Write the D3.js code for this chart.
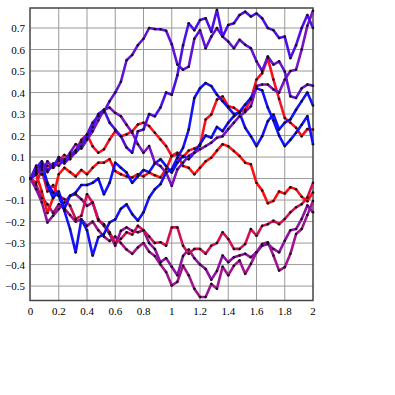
<!DOCTYPE html>
<html>
<head>
<meta charset="utf-8">
<script src="https://cdn.jsdelivr.net/npm/d3@7"></script>
<style>
  html, body { margin: 0; padding: 0; background: #fff; }
</style>
</head>
<body>
<svg id="chart" width="395" height="395"></svg>
<script>
// time steps 0..2 by 0.04 (51 points per walk)
const times = d3.range(51).map(i => +(i * 0.04).toFixed(2));
const xTicks = [0, 0.2, 0.4, 0.6, 0.8, 1, 1.2, 1.4, 1.6, 1.8, 2];
const yTicks = [-0.5, -0.4, -0.3, -0.2, -0.1, 0, 0.1, 0.2, 0.3, 0.4, 0.5, 0.6, 0.7];

const walkA = [0, 0.03, 0.05, 0.03, 0.07, 0.06, 0.09, 0.11, 0.13, 0.17, 0.205, 0.26, 0.29, 0.31, 0.36, 0.40, 0.45, 0.55, 0.575, 0.62, 0.65, 0.70, 0.695, 0.694, 0.687, 0.625, 0.53, 0.506, 0.52, 0.65, 0.69, 0.606, 0.66, 0.70, 0.66, 0.637, 0.606, 0.645, 0.622, 0.606, 0.545, 0.50, 0.568, 0.53, 0.545, 0.498, 0.383, 0.375, 0.42, 0.437, 0.432];
const walkB = [0, 0.05, 0.08, 0.04, 0.06, 0.09, 0.07, 0.10, 0.12, 0.15, 0.19, 0.24, 0.30, 0.32, 0.26, 0.228, 0.197, 0.144, 0.12, 0.22, 0.228, 0.30, 0.29, 0.33, 0.40, 0.39, 0.48, 0.62, 0.722, 0.69, 0.737, 0.745, 0.683, 0.784, 0.66, 0.714, 0.722, 0.76, 0.776, 0.753, 0.768, 0.745, 0.70, 0.69, 0.653, 0.66, 0.56, 0.62, 0.70, 0.76, 0.70];
const walkC = [0, 0.06, 0.02, 0.08, 0.05, 0.10, 0.08, 0.12, 0.16, 0.14, 0.18, 0.22, 0.27, 0.32, 0.33, 0.305, 0.29, 0.25, 0.213, 0.16, 0.12, 0.151, 0.074, 0.058, 0.028, -0.034, 0.043, 0.074, 0.105, 0.12, 0.136, 0.151, 0.167, 0.19, 0.197, 0.23, 0.26, 0.29, 0.31, 0.336, 0.43, 0.437, 0.437, 0.414, 0.40, 0.46, 0.50, 0.506, 0.60, 0.71, 0.78];
const walkR1 = [0, 0.03, 0.02, 0.06, 0.05, 0.08, 0.11, 0.09, 0.13, 0.18, 0.205, 0.15, 0.12, 0.136, 0.182, 0.22, 0.197, 0.205, 0.22, 0.251, 0.26, 0.244, 0.213, 0.182, 0.151, 0.105, 0.12, 0.10, 0.13, 0.14, 0.151, 0.275, 0.298, 0.367, 0.382, 0.336, 0.329, 0.31, 0.32, 0.367, 0.46, 0.49, 0.56, 0.46, 0.37, 0.282, 0.26, 0.236, 0.197, 0.23, 0.228];
const walkR2 = [0, 0.02, -0.06, -0.16, -0.09, 0.02, 0.05, 0.03, 0.01, 0.04, 0.02, 0.05, 0.074, 0.074, 0.09, 0.035, 0.02, 0.01, 0.005, 0.02, 0.01, 0.028, 0.015, 0.005, 0.043, 0.105, 0.112, 0.058, 0.05, 0.02, 0.05, 0.08, 0.097, 0.13, 0.16, 0.15, 0.128, 0.105, 0.074, 0.066, -0.02, -0.055, -0.115, -0.104, -0.06, -0.07, -0.04, -0.05, -0.085, -0.105, -0.065];
const walkB2 = [0, 0.04, 0.06, -0.03, -0.09, -0.06, -0.14, -0.08, -0.065, -0.03, -0.03, -0.02, 0.0, -0.073, -0.02, 0.074, 0.05, 0.028, -0.02, 0.01, 0.04, 0.03, 0.07, 0.09, 0.058, 0.028, 0.074, 0.105, 0.09, 0.12, 0.16, 0.20, 0.19, 0.24, 0.22, 0.26, 0.29, 0.31, 0.344, 0.375, 0.42, 0.41, 0.33, 0.27, 0.20, 0.151, 0.18, 0.213, 0.25, 0.29, 0.159];
const walkB3 = [0, 0.02, 0.07, -0.02, -0.065, -0.08, -0.15, -0.235, -0.343, -0.19, -0.24, -0.358, -0.273, -0.258, -0.204, -0.19, -0.14, -0.12, -0.165, -0.196, -0.157, -0.088, -0.05, -0.026, 0.028, 0.043, 0.097, 0.143, 0.228, 0.375, 0.42, 0.444, 0.43, 0.39, 0.36, 0.33, 0.30, 0.306, 0.236, 0.197, 0.151, 0.197, 0.267, 0.298, 0.228, 0.26, 0.275, 0.32, 0.36, 0.40, 0.34];
const walkC1 = [0, -0.02, 0.04, -0.06, -0.03, -0.08, -0.096, -0.127, -0.188, -0.173, -0.073, -0.111, -0.196, -0.212, -0.25, -0.30, -0.28, -0.25, -0.26, -0.22, -0.24, -0.27, -0.30, -0.296, -0.312, -0.227, -0.227, -0.312, -0.35, -0.327, -0.327, -0.35, -0.312, -0.30, -0.25, -0.281, -0.327, -0.327, -0.304, -0.235, -0.266, -0.22, -0.212, -0.196, -0.212, -0.188, -0.157, -0.134, -0.119, -0.088, -0.02];
const walkM1 = [0, -0.05, -0.11, -0.204, -0.173, -0.142, -0.111, -0.08, -0.073, -0.096, -0.127, -0.111, -0.188, -0.22, -0.258, -0.312, -0.243, -0.227, -0.243, -0.25, -0.24, -0.30, -0.327, -0.389, -0.37, -0.41, -0.45, -0.36, -0.33, -0.37, -0.40, -0.42, -0.47, -0.43, -0.358, -0.389, -0.366, -0.358, -0.35, -0.366, -0.343, -0.312, -0.304, -0.327, -0.343, -0.289, -0.24, -0.235, -0.188, -0.125, -0.157];
const walkM2 = [0, -0.03, -0.09, -0.12, -0.16, -0.12, -0.14, -0.17, -0.20, -0.19, -0.22, -0.20, -0.24, -0.27, -0.29, -0.27, -0.30, -0.33, -0.35, -0.32, -0.30, -0.34, -0.36, -0.40, -0.435, -0.497, -0.48, -0.405, -0.45, -0.512, -0.551, -0.551, -0.49, -0.512, -0.41, -0.45, -0.405, -0.381, -0.443, -0.397, -0.343, -0.304, -0.296, -0.358, -0.428, -0.412, -0.35, -0.258, -0.235, -0.17, -0.104];

const walks = [
  { values: walkM2, color: "#a0148a" },
  { values: walkM1, color: "#8c12a0" },
  { values: walkC1, color: "#d01050" },
  { values: walkR2, color: "#ff1010" },
  { values: walkR1, color: "#f81020" },
  { values: walkB2, color: "#1010ff" },
  { values: walkB3, color: "#1410f8" },
  { values: walkC, color: "#7a12c0" },
  { values: walkA, color: "#6012d6" },
  { values: walkB, color: "#4c10e6" }
];

const svg = d3.select("#chart");
const x = d3.scaleLinear().domain([0, 2]).range([30.5, 313]);
const y = d3.scaleLinear().domain([-0.567, 0.793]).range([300.5, 8]);

const g = svg.append("g");

// grid
g.selectAll(".gx").data(xTicks.slice(1, -1)).join("line")
  .attr("x1", d => x(d)).attr("x2", d => x(d))
  .attr("y1", y.range()[1]).attr("y2", y.range()[0])
  .attr("stroke", "#9a9a9a").attr("stroke-width", 1);
g.selectAll(".gy").data(yTicks).join("line")
  .attr("x1", x.range()[0]).attr("x2", x.range()[1])
  .attr("y1", d => y(d)).attr("y2", d => y(d))
  .attr("stroke", "#9a9a9a").attr("stroke-width", 1);

// frame
g.append("rect")
  .attr("x", 30).attr("y", 8)
  .attr("width", 283).attr("height", 292.5)
  .attr("fill", "none").attr("stroke", "#444").attr("stroke-width", 1.5);

const line = d3.line()
  .x((d, i) => x(times[i]))
  .y(d => y(d));

g.selectAll(".walk").data(walks).join("path")
  .attr("class", "walk")
  .attr("fill", "none")
  .attr("stroke", d => d.color)
  .attr("stroke-width", 2.6)
  .attr("stroke-linejoin", "round")
  .attr("d", d => line(d.values));

// point markers
walks.forEach(w => {
  g.selectAll(null).data(w.values).join("circle")
    .attr("cx", (d, i) => x(times[i]))
    .attr("cy", d => y(d))
    .attr("r", 1.25)
    .attr("fill", "#111");
});

// tick labels
const serif = "'Liberation Serif', 'Times New Roman', Times, 'DejaVu Serif', serif";
const fmt = d => (d < 0 ? "\u2212" : "") + Math.abs(d);
g.selectAll(".ylab").data(yTicks).join("text")
  .attr("x", 25).attr("y", d => y(d) + 4)
  .attr("text-anchor", "end")
  .attr("font-family", serif).attr("font-size", 11)
  .text(fmt);
g.selectAll(".xlab").data(xTicks).join("text")
  .attr("x", d => x(d)).attr("y", 315)
  .attr("text-anchor", "middle")
  .attr("font-family", serif).attr("font-size", 11)
  .text(d => d);
</script>
</body>
</html>
